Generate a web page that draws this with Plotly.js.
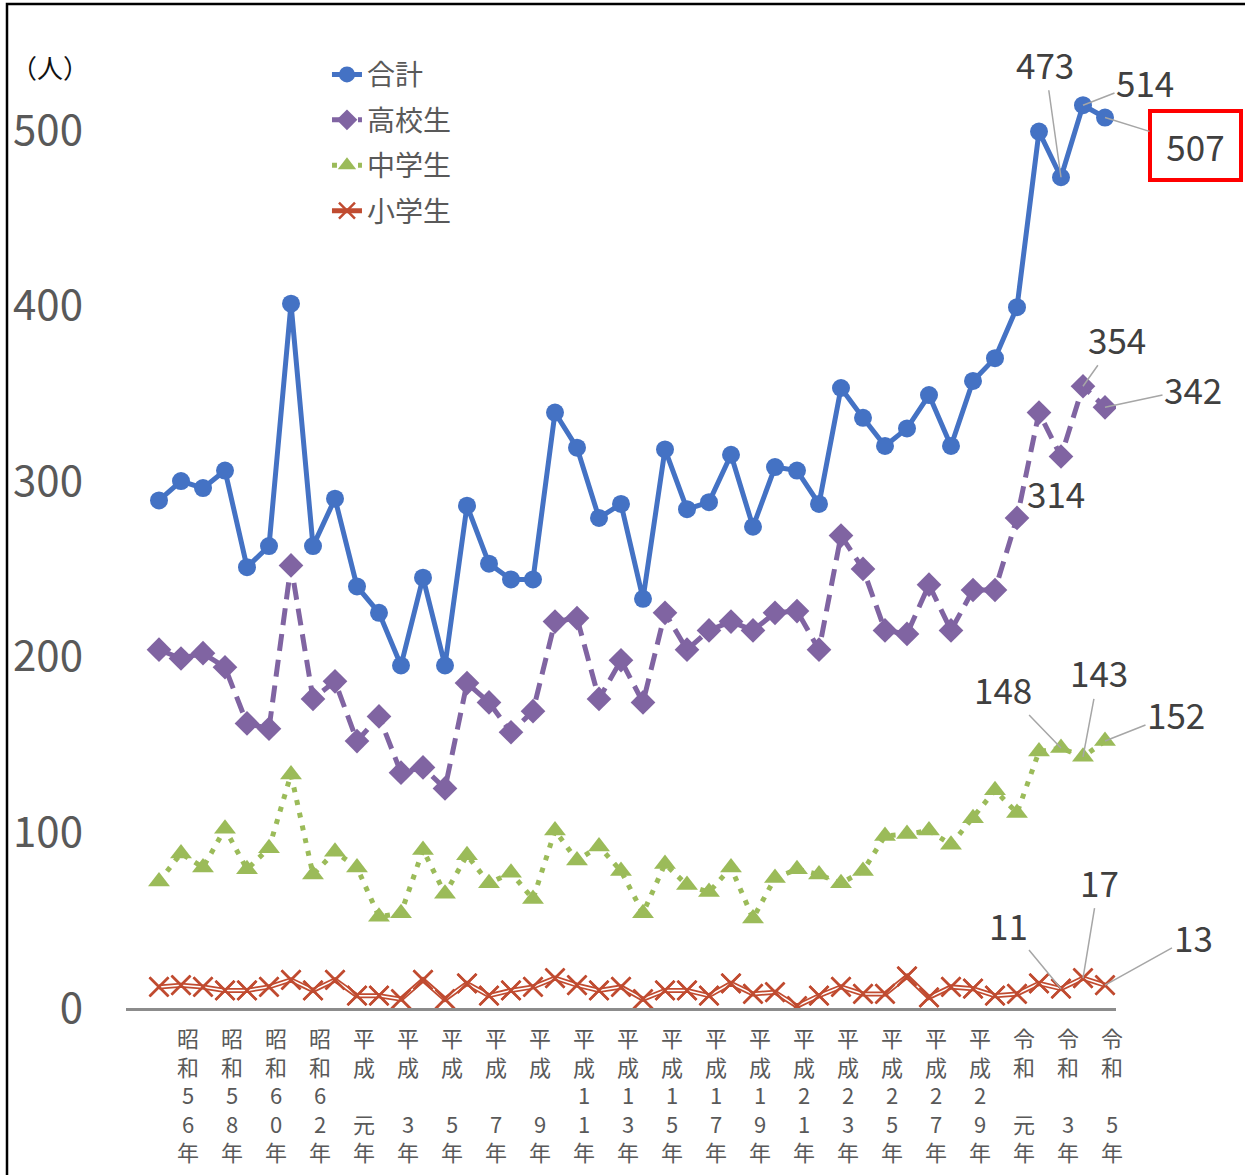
<!DOCTYPE html>
<html>
<head>
<meta charset="utf-8">
<script src="https://cdn.plot.ly/plotly-3.0.1.min.js"></script>
<style>
  html, body { margin: 0; padding: 0; background: #fff; }
  #chart { width: 1245px; height: 1175px; }
</style>
</head>
<body>
<div id="chart"></div>
<script>
// ---- data ----
const years = [1980, 1981, 1982, 1983, 1984, 1985, 1986, 1987, 1988, 1989,
               1990, 1991, 1992, 1993, 1994, 1995, 1996, 1997, 1998, 1999,
               2000, 2001, 2002, 2003, 2004, 2005, 2006, 2007, 2008, 2009,
               2010, 2011, 2012, 2013, 2014, 2015, 2016, 2017, 2018, 2019,
               2020, 2021, 2022, 2023];

const total = [289, 300, 296, 306, 251, 263, 401, 263, 290, 240,
               225, 195, 245, 195, 286, 253, 244, 244, 339, 319,
               279, 287, 233, 318, 284, 288, 315, 274, 308, 306,
               287, 353, 336, 320, 330, 349, 320, 357, 370, 399,
               499, 473, 514, 507];

const highSchool = [204, 199, 202, 194, 162, 159, 252, 176, 186, 152,
                    166, 134, 137, 125, 185, 174, 157, 169, 220, 222,
                    176, 198, 174, 225, 204, 215, 220, 215, 225, 226,
                    204, 269, 250, 215, 213, 241, 215, 238, 238, 279,
                    339, 314, 354, 342];

const juniorHigh = [72, 88, 80, 102, 79, 91, 133, 76, 89, 80,
                    52, 54, 90, 65, 87, 71, 77, 62, 101, 84,
                    92, 78, 54, 82, 70, 66, 80, 51, 74, 79,
                    76, 71, 78, 98, 99, 101, 93, 108, 124, 111,
                    146, 148, 143, 152];

const elementary = [12, 13, 12, 10, 10, 12, 16, 10, 16, 7,
                    7, 5, 16, 5, 14, 7, 10, 12, 17, 13,
                    10, 12, 5, 10, 10, 7, 14, 8, 9, 1,
                    7, 12, 8, 8, 18, 6, 12, 11, 7, 8,
                    14, 11, 17, 13];

const seriesNames = ['合計', '高校生', '中学生', '小学生'];

const tickYears = [1981, 1983, 1985, 1987, 1989, 1991, 1993, 1995, 1997, 1999,
                   2001, 2003, 2005, 2007, 2009, 2011, 2013, 2015, 2017, 2019,
                   2021, 2023];
const tickLabels = ['昭和56年', '昭和58年', '昭和60年', '昭和62年', '平成元年',
                    '平成3年', '平成5年', '平成7年', '平成9年', '平成11年',
                    '平成13年', '平成15年', '平成17年', '平成19年', '平成21年',
                    '平成23年', '平成25年', '平成27年', '平成29年', '令和元年',
                    '令和3年', '令和5年'];
const yTicks = [0, 100, 200, 300, 400, 500];
const yUnit = '（人）';

// ---- helpers ----
function stackLabel(s) {
  const ch = Array.from(s);
  if (ch.length === 4) ch.splice(2, 0, '\u3000');
  return ch.join('<br>');
}

const FONT = '"Noto Sans CJK JP", "Noto Sans", sans-serif';
const C_TOTAL = '#4472C4';
const C_HIGH = '#8064A2';
const C_JH = '#9BBB59';
const C_EL = '#C04B30';

const traces = [
  {
    x: years, y: elementary, name: seriesNames[3], type: 'scatter', mode: 'lines+markers',
    line: { color: C_EL, width: 5 },
    marker: { symbol: 'x-thin', size: 19, line: { color: C_EL, width: 2.5 }, color: C_EL },
    legendrank: 4, legendgroup: 'e', hoverinfo: 'skip'
  },
  {
    x: years, y: elementary, type: 'scatter', mode: 'lines',
    line: { color: '#ffffff', width: 1.5 }, showlegend: false, hoverinfo: 'skip', legendgroup: 'e'
  },
  {
    x: years, y: elementary, type: 'scatter', mode: 'markers',
    marker: { symbol: 'x-thin', size: 19, line: { color: C_EL, width: 2.5 }, color: C_EL },
    showlegend: false, hoverinfo: 'skip', legendgroup: 'e'
  },
  {
    x: years, y: juniorHigh, name: seriesNames[2], type: 'scatter', mode: 'lines+markers',
    line: { color: C_JH, width: 5, dash: '5px,8px' },
    marker: { symbol: 'triangle-up', size: 19, color: C_JH },
    legendrank: 3, legendgroup: 'j'
  },
  {
    x: years, y: highSchool, name: seriesNames[1], type: 'scatter', mode: 'lines+markers',
    line: { color: C_HIGH, width: 5, dash: '17px,9px' },
    marker: { symbol: 'diamond', size: 19, color: C_HIGH },
    legendrank: 2, legendgroup: 'h'
  },
  {
    x: years, y: total, name: seriesNames[0], type: 'scatter', mode: 'lines+markers',
    line: { color: C_TOTAL, width: 5 },
    marker: { symbol: 'circle', size: 18, color: C_TOTAL },
    legendrank: 1, legendgroup: 't'
  }
];

// ---- data labels ----
const n = years.length;
const LBL = { size: 35, color: '#404040', family: FONT };
function lab(series, idx, ax, ay, extra) {
  return Object.assign({
    x: years[idx], y: series[idx], xref: 'x', yref: 'y',
    text: String(series[idx]), font: LBL,
    showarrow: true, arrowhead: 0, arrowwidth: 1.5, arrowcolor: '#A6A6A6',
    ax: ax, ay: ay, standoff: 0
  }, extra || {});
}
const annotations = [
  lab(total, n - 3, -16, -114),
  lab(total, n - 2, 62, -24),
  lab(total, n - 1, 90, 28, { bordercolor: '#FF0000', borderwidth: 4, borderpad: 2, width: 83, height: 61 }),
  lab(highSchool, n - 3, 0, 0, { showarrow: false, xshift: -5, yshift: -36 }),
  lab(highSchool, n - 2, 34, -48),
  lab(highSchool, n - 1, 88, -19),
  lab(juniorHigh, n - 3, -58, -60),
  lab(juniorHigh, n - 2, 16, -85),
  lab(juniorHigh, n - 1, 71, -28),
  lab(elementary, n - 3, -53, -64),
  lab(elementary, n - 2, 16, -97),
  lab(elementary, n - 1, 88, -49),
  {
    text: yUnit, xref: 'paper', yref: 'paper', x: (50 - 126) / 990, y: (1008 - 67) / 966,
    xanchor: 'center', yanchor: 'middle',
    showarrow: false, font: { size: 26, color: '#111111', family: FONT }
  }
];

const layout = {
  width: 1245, height: 1175,
  margin: { l: 126, r: 129, t: 42, b: 167 },
  paper_bgcolor: '#ffffff', plot_bgcolor: '#ffffff',
  font: { family: FONT, color: '#595959' },
  showlegend: true,
  legend: {
    x: 0.203, y: 0.992, xanchor: 'left', yanchor: 'top',
    font: { size: 28, color: '#595959', family: FONT },
    bgcolor: 'rgba(0,0,0,0)', tracegroupgap: 6, itemwidth: 30
  },
  xaxis: {
    range: [1978.5, 2023.5], showgrid: false, zeroline: false,
    showline: true, linecolor: '#8c8c8c', linewidth: 2.5,
    tickmode: 'array', tickvals: tickYears, ticktext: tickLabels.map(stackLabel),
    ticks: '', tickfont: { size: 22, color: '#595959', family: FONT },
    ticklabelstandoff: 10, ticklabelshift: 7, fixedrange: true
  },
  yaxis: {
    range: [0, 550], showgrid: false, zeroline: false, showline: false,
    tickmode: 'array', tickvals: yTicks, ticktext: yTicks.map(String),
    ticks: '', tickfont: { size: 42, color: '#595959', family: FONT },
    ticklabelstandoff: 42, fixedrange: true
  },
  annotations: annotations,
  shapes: [{
    type: 'rect', xref: 'paper', yref: 'paper',
    x0: (7 - 126) / 990, x1: (1260 - 126) / 990,
    y0: (1008 - 1190) / 966, y1: (1008 - 4) / 966,
    line: { color: '#000000', width: 2.5 }, fillcolor: 'rgba(0,0,0,0)', layer: 'below'
  }]
};

Plotly.newPlot('chart', traces, layout, { displayModeBar: false, staticPlot: true });
</script>
</body>
</html>
